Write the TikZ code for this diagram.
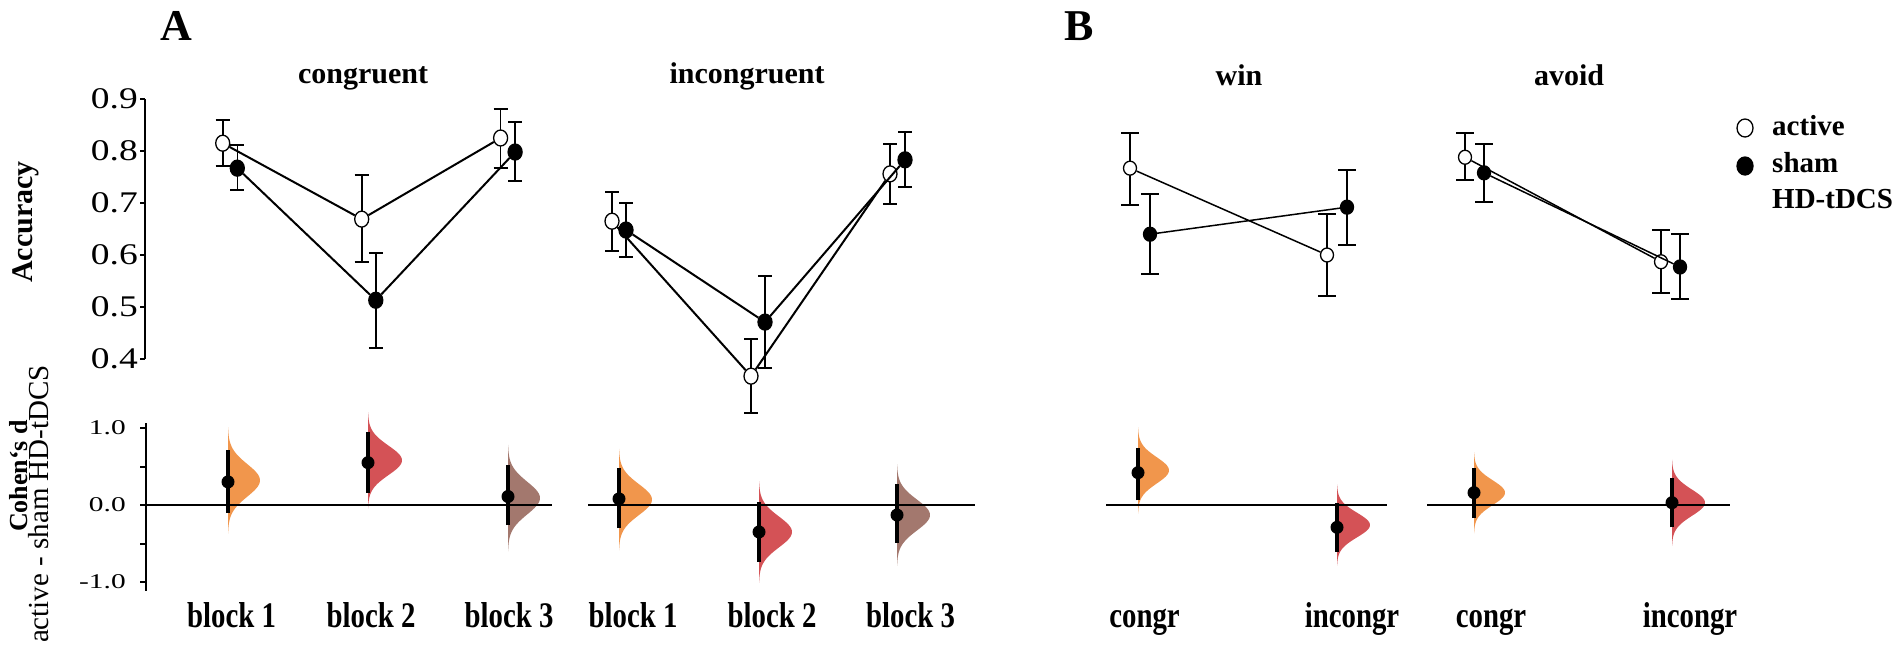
\documentclass[tikz,border=0pt]{standalone}
\usepackage{fontspec}
\setmainfont{Liberation Serif}
\usetikzlibrary{shapes.geometric}

\definecolor{violOrange}{RGB}{241,150,76}
\definecolor{violRed}{RGB}{212,82,86}
\definecolor{violBrown}{RGB}{163,120,110}

\begin{document}
\begin{tikzpicture}[
    x = 1pt, y = -1pt,
    act/.style = {ellipse, draw = black, line width = 1.3pt, fill = white,
        minimum width = 14pt, minimum height = 16pt, inner sep = 0pt},
    shm/.style = {act, fill = black},
    actB/.style = {act, minimum width = 13pt, minimum height = 14pt},
    shmB/.style = {actB, fill = black},
    err/.style = {line width = 1.6pt},
    conn/.style = {line width = 2pt},
    connB/.style = {line width = 1.5pt},
    axis/.style = {line width = 2pt},
    zero/.style = {line width = 2.5pt},
    ci/.style = {line width = 4pt},
    dot/.style = {circle, fill = black, minimum size = 13pt, inner sep = 0pt},
    panel/.style = {font = \bfseries\fontsize{44}{50}\selectfont, anchor = base},
    title/.style = {font = \bfseries\fontsize{30}{36}\selectfont, anchor = base},
    legtext/.style = {font = \bfseries\fontsize{29}{34}\selectfont, anchor = base west, inner sep = 0pt},
    ytick/.style = {font = \fontsize{30}{36}\selectfont, anchor = east, inner sep = 0pt,
        xscale = 1.25, transform shape},
    dtick/.style = {font = \fontsize{21}{25}\selectfont, anchor = east, inner sep = 0pt,
        xscale = 1.4, transform shape},
    xlab/.style = {font = \bfseries\fontsize{36}{42}\selectfont, anchor = base,
        xscale = 0.8, transform shape},
  ]
  \useasboundingbox[fill = white] (0,0) rectangle (1902,656);

  % panel letters and titles
  \node[panel] (A) at (176,40) {A};
  \node[panel] (B) at (1079,40) {B};
  \node[title] (tcong) at (363,83) {congruent};
  \node[title] (tincong) at (747,83) {incongruent};
  \node[title] (twin) at (1239,85) {win};
  \node[title] (tavoid) at (1569,85) {avoid};

  % y axis labels
  \node[font = \bfseries\fontsize{30}{36}\selectfont, rotate = 90] (yacc) at (26,222) {Accuracy};
  \node[font = \bfseries\fontsize{26}{30}\selectfont, rotate = 90] (ycoh) at (19,476) {Cohen‘s d};
  \node[font = \fontsize{29}{34}\selectfont, rotate = 90] (ydiff) at (39,504) {active - sham HD-tDCS};

  % accuracy plots
  \begin{scope}[
        shift = {(0,567)}, y = 520pt
    ]
    \draw[axis] (145,0.4) -- (145,0.9);
    \foreach \v [count=\i] in {0.4,0.5,0.6,0.7,0.8,0.9} {
      \draw[axis] (140,\v) -- (145,\v);
      \node[ytick] (ytick\i) at (138,\v) {\v};
    }

    \foreach \px/\lo/\hi/\w in {222.7/0.771/0.860/7, 237.3/0.725/0.812/7,
        361.7/0.587/0.754/7, 375.8/0.421/0.604/7, 500.6/0.767/0.881/7, 515.1/0.742/0.856/7,
        612/0.608/0.721/7, 626/0.596/0.700/7, 751/0.296/0.438/7, 765/0.383/0.560/7,
        890/0.698/0.813/7, 905/0.731/0.837/7,
        1130/0.696/0.835/9, 1150/0.563/0.717/9, 1327/0.521/0.679/9, 1347/0.619/0.763/9,
        1465/0.744/0.835/9, 1484/0.702/0.813/9, 1661/0.527/0.648/9, 1680/0.515/0.640/9}
      \draw[err] (\px-\w,\lo) -- (\px+\w,\lo) (\px,\lo) -- (\px,\hi) (\px-\w,\hi) -- (\px+\w,\hi);

    % congruent
    \node[act] (ca1) at (222.7,0.815) {};
    \node[act] (ca2) at (361.7,0.669) {};
    \node[act] (ca3) at (500.6,0.825) {};
    \node[shm] (cs1) at (237.3,0.767) {};
    \node[shm] (cs2) at (375.8,0.513) {};
    \node[shm] (cs3) at (515.1,0.798) {};
    \draw[conn] (ca1) -- (ca2) -- (ca3);
    \draw[conn] (cs1) -- (cs2) -- (cs3);

    % incongruent
    \node[act] (ia1) at (612,0.665) {};
    \node[act] (ia2) at (751,0.367) {};
    \node[act] (ia3) at (890,0.756) {};
    \node[shm] (is1) at (626,0.648) {};
    \node[shm] (is2) at (765,0.471) {};
    \node[shm] (is3) at (905,0.783) {};
    \draw[conn] (ia1) -- (ia2) -- (ia3);
    \draw[conn] (is1) -- (is2) -- (is3);

    % win
    \node[actB] (wa1) at (1130,0.767) {};
    \node[actB] (wa2) at (1327,0.600) {};
    \node[shmB] (ws1) at (1150,0.640) {};
    \node[shmB] (ws2) at (1347,0.692) {};
    \draw[connB] (wa1) -- (wa2);
    \draw[connB] (ws1) -- (ws2);

    % avoid
    \node[actB] (va1) at (1465,0.788) {};
    \node[actB] (va2) at (1661,0.587) {};
    \node[shmB] (vs1) at (1484,0.758) {};
    \node[shmB] (vs2) at (1680,0.577) {};
    \draw[connB] (va1) -- (va2);
    \draw[connB] (vs1) -- (vs2);
  \end{scope}

  % legend
  \node[act, minimum width = 16pt, minimum height = 18pt] (legA) at (1745,128) {};
  \node[shm, minimum width = 16pt, minimum height = 18pt] (legS) at (1745,166) {};
  \node[legtext] (legAt) at (1772,135) {active};
  \node[legtext] (legSt) at (1772,172) {sham};
  \node[legtext] (legHt) at (1772,208) {HD-tDCS};

  % effect size plots
  \begin{scope}[
        shift = {(0,505)}, y = 77pt
    ]
    \foreach \px/\m/\s/\w/\c in {228/0.32/0.21/32/violOrange, 368/0.58/0.19/34/violRed,
        508/0.09/0.21/32/violBrown, 619/0.07/0.20/33/violOrange, 759/-0.35/0.20/33/violRed,
        897/-0.13/0.20/33/violBrown, 1138/0.45/0.17/31/violOrange, 1337/-0.26/0.16/33/violRed,
        1474/0.16/0.16/31/violOrange, 1672/0.03/0.17/33/violRed}
      \fill[\c] plot[variable = \t, domain = {\m-3.3*\s}:{\m+3.3*\s}, samples = 60, smooth]
        ({\px+\w*exp(-0.5*((\t-(\m))/\s)^2)}, \t) -- cycle;

    \draw[axis] (146,1.065) -- (146,-1.117);
    \foreach \v in {1,0.5,0,-0.5,-1}
      \draw[axis] (140,\v) -- (146,\v);
    \node[dtick] (dtick1) at (126,1) {1.0};
    \node[dtick] (dtick2) at (126,0) {0.0};
    \node[dtick] (dtick3) at (126,-1) {-1.0};

    \draw[zero] (146,0) -- (552,0);
    \draw[zero] (588,0) -- (975,0);
    \draw[zero] (1106,0) -- (1387,0);
    \draw[zero] (1427,0) -- (1730,0);

    \foreach \px/\d/\lo/\hi [count=\i] in {228/0.30/-0.10/0.71, 368/0.55/0.16/0.95,
        508/0.11/-0.26/0.52, 619/0.08/-0.30/0.48, 759/-0.35/-0.74/0.04, 897/-0.13/-0.49/0.27,
        1138/0.42/0.06/0.74, 1337/-0.29/-0.61/0.03, 1474/0.16/-0.17/0.48, 1672/0.03/-0.29/0.35} {
      \draw[ci] (\px,\lo) -- (\px,\hi);
      \node[dot] (d\i) at (\px,\d) {};
    }
  \end{scope}

  % condition labels
  \node[xlab] (xl1) at (231.5,627) {block 1};
  \node[xlab] (xl2) at (371,627) {block 2};
  \node[xlab] (xl3) at (509,627) {block 3};
  \node[xlab] (xl4) at (633,627) {block 1};
  \node[xlab] (xl5) at (772,627) {block 2};
  \node[xlab] (xl6) at (910.5,627) {block 3};
  \node[xlab] (xl7) at (1144.5,627) {congr};
  \node[xlab] (xl8) at (1352,627) {incongr};
  \node[xlab] (xl9) at (1491,627) {congr};
  \node[xlab] (xl10) at (1690,627) {incongr};
\end{tikzpicture}
\end{document}
